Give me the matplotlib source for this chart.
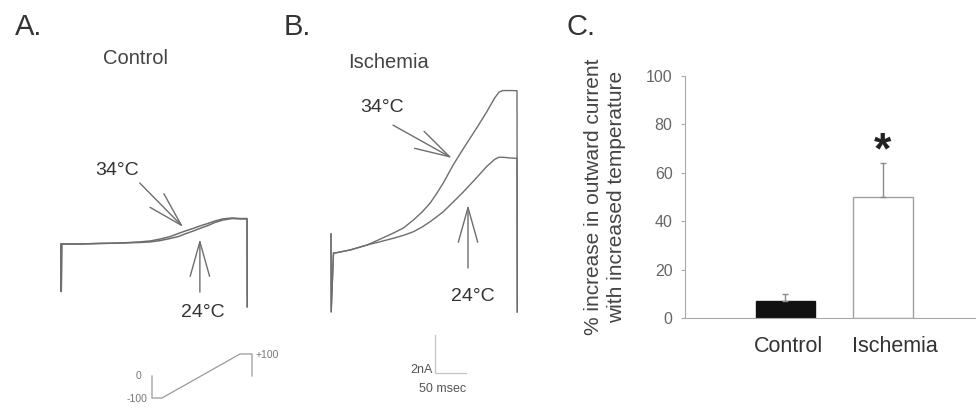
import matplotlib.pyplot as plt
import matplotlib.transforms as mtransforms
import numpy as np

plt.rcParams['font.family'] = ['Liberation Sans', 'DejaVu Sans']

W, H = 976, 409

# scale bar in panel B: 2 nA / 50 msec
MS_PER_PX = 50 / 31
NA_PER_PX = 2 / 38

# A. control ramp currents (msec, nA from holding level)
ctrl_t = [0, 0.4, 1.2, 31, 63, 95, 127, 144, 160, 176, 189, 200, 213, 224, 237,
          248, 261, 276, 289, 300, 300.4]
ctrl_24 = [0, -2.5, 0, 0, 0.03, 0.05, 0.08, 0.11, 0.18, 0.29, 0.39, 0.53, 0.68,
           0.82, 0.97, 1.13, 1.26, 1.34, 1.32, 1.32, -3.3]
ctrl_34 = [0, -2.5, 0, 0, 0.03, 0.05, 0.11, 0.16, 0.26, 0.39, 0.55, 0.68, 0.82,
           0.95, 1.08, 1.21, 1.32, 1.37, 1.34, 1.34, -3.3]

# B. ischemia ramp currents
isch_t = [0, 0.3, 4, 6.5, 31, 58, 80, 100, 117, 133, 147, 160, 171, 181, 197,
          213, 235, 251, 264, 271, 277, 290, 300, 300.4]
isch_24 = [1.0, -3.1, 0, 0, 0.16, 0.42, 0.60, 0.77, 0.93, 1.12, 1.37, 1.65, 1.92,
           2.17, 2.68, 3.20, 3.97, 4.55, 4.93, 5.04, 5.04, 5.00, 4.98, -3.1]
isch_34 = [1.0, -3.1, 0, 0, 0.16, 0.42, 0.74, 1.04, 1.32, 1.74, 2.16, 2.63, 3.16,
           3.68, 4.63, 5.47, 6.58, 7.42, 8.16, 8.47, 8.55, 8.55, 8.54, -3.1]

# voltage protocol (msec, mV)
prot_t = [0, 0, 30, 264, 300, 300]
prot_v = [0, -100, -100, 100, 100, 0]

# C. summary bars
groups = ['Control', 'Ischemia']
pct_increase = [7, 50]
pct_sem = [3, 14]

TRACE = '#6e6e6e'
TEXT = '#333333'


def px_axes(fig, x0, y0, x1, y1):
    return fig.add_axes([x0 / W, 1 - y1 / H, (x1 - x0) / W, (y1 - y0) / H])


def ftext(fig, x, y, s, **kw):
    kw.setdefault('color', TEXT)
    kw.setdefault('ha', 'center')
    kw.setdefault('va', 'center')
    fig.text(x / W, 1 - y / H, s, **kw)


def arrow(ax, tip, tail):
    ax.annotate('', xy=tip, xytext=tail,
                arrowprops=dict(arrowstyle='->, head_length=2.5, head_width=0.7',
                                mutation_scale=10, color=TRACE, lw=1,
                                shrinkA=0, shrinkB=0))


fig = plt.figure(figsize=(W / 100, H / 100), dpi=100)

# ---------- panel A ----------
axA = px_axes(fig, 40, 80, 300, 409)
axA.set_xlim((40 - 61) * MS_PER_PX, (300 - 61) * MS_PER_PX)
axA.set_ylim((244 - 409) * NA_PER_PX, (244 - 80) * NA_PER_PX)
axA.axis('off')
axA.plot(ctrl_t, ctrl_24, color=TRACE, lw=1.1)
axA.plot(ctrl_t, ctrl_34, color=TRACE, lw=1.1)
arrow(axA, (197, 0.89), (127, 3.21))
arrow(axA, (224, 0.26), (224, -2.53))
axA.text(90, 3.89, '34\u00b0C', fontsize=14, color=TEXT, ha='center', va='center')
axA.text(229, -3.63, '24\u00b0C', fontsize=14, color=TEXT, ha='center', va='center')

# protocol inset
axP = px_axes(fig, 120, 340, 290, 409)
axP.set_xlim((120 - 152) * 3, (290 - 152) * 3)
axP.set_ylim((376 - 409) / 0.22, (376 - 340) / 0.22)
axP.axis('off')
axP.plot(prot_t, prot_v, color='#9a9a9a', lw=0.9)
axP.text(-39, 0, '0', fontsize=7.5, color='#777', ha='center', va='center')
axP.text(-45, -105, '-100', fontsize=7.5, color='#777', ha='center', va='center')
axP.text(345, 95, '+100', fontsize=7.5, color='#777', ha='center', va='center')

# ---------- panel B ----------
axB = px_axes(fig, 300, 80, 560, 409)
axB.set_xlim((300 - 331) * MS_PER_PX, (560 - 331) * MS_PER_PX)
axB.set_ylim((253 - 409) * NA_PER_PX, (253 - 80) * NA_PER_PX)
axB.axis('off')
axB.plot(isch_t, isch_24, color=TRACE, lw=1)
axB.plot(isch_t, isch_34, color=TRACE, lw=1)
arrow(axB, (195, 5.0), (100, 6.73))
arrow(axB, (221, 2.53), (221, -0.79))
axB.text(82, 7.68, '34\u00b0C', fontsize=14, color=TEXT, ha='center', va='center')
axB.text(229, -2.31, '24\u00b0C', fontsize=14, color=TEXT, ha='center', va='center')

# scale bar
sb_t, sb_i = 168, -6.31
axB.plot([sb_t, sb_t, sb_t + 50], [sb_i + 2, sb_i, sb_i], color='#c4c4c4', lw=0.9)
axB.text(sb_t - 4, sb_i + 0.15, '2nA', fontsize=9, color='#555', ha='right', va='center')
axB.text(sb_t + 12, sb_i - 0.85, '50 msec', fontsize=9, color='#555', ha='center', va='center')

# ---------- panel C ----------
axC = px_axes(fig, 685, 76, 976, 318)
x = np.arange(len(groups))
axC.bar(x, pct_increase, width=[0.6, 0.62], color=['#111111', 'white'],
        edgecolor=['#111111', '#a0a0a0'], linewidth=1)
axC.errorbar(x, pct_increase, yerr=[[0, 0], pct_sem], fmt='none',
             ecolor='#8a8a8a', elinewidth=1, capsize=2)
axC.text(1, 68.5, '*', fontsize=32, fontweight='bold', color='#222',
         ha='center', va='center')
axC.set_xlim(-1.03, 1.955)
axC.set_ylim(0, 100)
axC.set_yticks(range(0, 101, 20))
axC.set_xticks(x, groups)
axC.tick_params(axis='y', direction='out', length=3, color='#aaaaaa',
                labelcolor='#666666', labelsize=11.5, pad=6)
axC.tick_params(axis='x', length=0, labelsize=15.5, labelcolor=TEXT, pad=13)
for lab, dx in zip(axC.get_xticklabels(), [3, 12]):
    lab.set_transform(lab.get_transform() +
                      mtransforms.ScaledTranslation(dx / 100, 0, fig.dpi_scale_trans))
for side in ['top', 'right']:
    axC.spines[side].set_visible(False)
for side in ['left', 'bottom']:
    axC.spines[side].set_color('#a8a8a8')

ftext(fig, 605, 197, '% increase in outward current\nwith increased temperature',
      rotation=90, fontsize=15, color='#444', linespacing=1.3)

# panel letters and titles
ftext(fig, 15, 27, 'A.', fontsize=21, ha='left')
ftext(fig, 284, 27, 'B.', fontsize=21, ha='left')
ftext(fig, 566, 27, 'C.', fontsize=21, ha='left')
ftext(fig, 135, 58, 'Control', fontsize=14.5, color='#444')
ftext(fig, 388, 63, 'Ischemia', fontsize=14.5, color='#444')

fig.savefig('out.png', dpi=100)
